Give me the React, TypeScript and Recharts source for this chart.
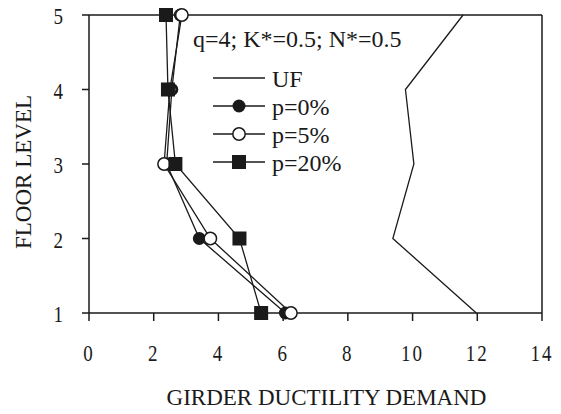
import React from 'react';
import { ScatterChart, Scatter, XAxis, YAxis, ReferenceLine } from 'recharts';

// floor levels and girder ductility demand per series
const floors = [1, 2, 3, 4, 5];
const ufDemand = [11.97, 9.39, 10.04, 9.78, 11.56];
const p0Demand = [6.07, 3.41, 2.4, 2.56, 2.82];
const p5Demand = [6.24, 3.75, 2.32, 2.5, 2.87];
const p20Demand = [5.32, 4.65, 2.67, 2.44, 2.38];

const xTicks = [0, 2, 4, 6, 8, 10, 12, 14];
const yTicks = [1, 2, 3, 4, 5];

const FONT = "'Liberation Serif', 'Times New Roman', serif";
const INK = '#1a1a1a';

const toPoints = (vals: number[]) => vals.map((v, i) => ({ x: v, y: floors[i] }));

const noMarker = () => <g />;
const filledCircle = (p: any) => <circle cx={p.cx} cy={p.cy} r={6.5} fill={INK} />;
const openCircle = (p: any) => (
  <circle cx={p.cx} cy={p.cy} r={6.2} fill="#fff" stroke={INK} strokeWidth={1.5} />
);
const filledSquare = (p: any) => (
  <rect x={p.cx - 7} y={p.cy - 7} width={14} height={14} fill={INK} />
);

const XTick = ({ x, y, payload }: any) => (
  <g transform={`translate(${x},${y + 38})`}>
    <text
      transform="scale(1,1.25)"
      textAnchor="middle"
      fontSize={19}
      letterSpacing={2}
      fontFamily={FONT}
      fill={INK}
    >
      {payload.value}
    </text>
  </g>
);

const YTick = ({ x, y, payload }: any) => (
  <g transform={`translate(${x},${y + 1})`}>
    <text
      transform="scale(1,1.25)"
      textAnchor="end"
      dy="0.35em"
      fontSize={19}
      fontFamily={FONT}
      fill={INK}
    >
      {payload.value}
    </text>
  </g>
);

const legendRows = [
  { name: 'UF', marker: 'none' },
  { name: 'p=0%', marker: 'filled' },
  { name: 'p=5%', marker: 'open' },
  { name: 'p=20%', marker: 'square' },
];

const LegendSymbol = ({ kind, cy }: { kind: string; cy: number }) => {
  const cx = 239;
  return (
    <g>
      <line x1={213} x2={265} y1={cy} y2={cy} stroke={INK} strokeWidth={1.3} />
      {kind === 'filled' && <circle cx={cx} cy={cy} r={6.5} fill={INK} />}
      {kind === 'open' && <circle cx={cx} cy={cy} r={6.2} fill="#fff" stroke={INK} strokeWidth={1.5} />}
      {kind === 'square' && <rect x={cx - 7} y={cy - 7} width={14} height={14} fill={INK} />}
    </g>
  );
};

export default function App() {
  return (
    <div style={{ position: 'absolute', left: 0, top: 0, width: 561, height: 414, background: '#fff' }}>
      <ScatterChart width={561} height={414} margin={{ top: 15, right: 19, bottom: 0, left: 0 }}>
        <XAxis
          type="number"
          dataKey="x"
          domain={[0, 14]}
          ticks={xTicks}
          interval={0}
          height={101}
          tickSize={8}
          axisLine={{ stroke: INK, strokeWidth: 1.5 }}
          tickLine={{ stroke: INK, strokeWidth: 1.5 }}
          tick={<XTick />}
          label={{
            value: 'GIRDER DUCTILITY DEMAND',
            position: 'insideBottom',
            offset: 9,
            dx: 11,
            style: { fontFamily: FONT, fontSize: 23, fill: INK },
          }}
        />
        <YAxis
          type="number"
          dataKey="y"
          domain={[1, 5]}
          ticks={yTicks}
          interval={0}
          width={89}
          tickSize={7}
          tickMargin={19}
          axisLine={{ stroke: INK, strokeWidth: 1.5 }}
          tickLine={{ stroke: INK, strokeWidth: 1.5 }}
          tick={<YTick />}
          label={{
            value: 'FLOOR LEVEL',
            angle: -90,
            position: 'insideLeft',
            offset: 23,
            dy: 8,
            style: { fontFamily: FONT, fontSize: 23, fill: INK, textAnchor: 'middle' },
          }}
        />
        <ReferenceLine y={5} stroke={INK} strokeWidth={1.5} ifOverflow="visible" />
        <ReferenceLine x={14} stroke={INK} strokeWidth={1.5} ifOverflow="visible" />
        <Scatter
          name="UF"
          data={toPoints(ufDemand)}
          line={{ stroke: INK, strokeWidth: 1.3 }}
          shape={noMarker}
          isAnimationActive={false}
        />
        <Scatter
          name="p=0%"
          data={toPoints(p0Demand)}
          line={{ stroke: INK, strokeWidth: 1.3 }}
          shape={filledCircle}
          isAnimationActive={false}
        />
        <Scatter
          name="p=5%"
          data={toPoints(p5Demand)}
          line={{ stroke: INK, strokeWidth: 1.3 }}
          shape={openCircle}
          isAnimationActive={false}
        />
        <Scatter
          name="p=20%"
          data={toPoints(p20Demand)}
          line={{ stroke: INK, strokeWidth: 1.3 }}
          shape={filledSquare}
          isAnimationActive={false}
        />
      </ScatterChart>
      <svg
        width={561}
        height={414}
        style={{ position: 'absolute', left: 0, top: 0, pointerEvents: 'none' }}
      >
        <text x={193} y={47} fontFamily={FONT} fontSize={24} fill={INK}>
          q=4; K*=0.5; N*=0.5
        </text>
        {legendRows.map((row, i) => {
          const cy = 78 + i * 28;
          return (
            <g key={row.name}>
              <LegendSymbol kind={row.marker} cy={cy} />
              <text x={272} y={cy} dy="0.36em" fontFamily={FONT} fontSize={24} fill={INK}>
                {row.name}
              </text>
            </g>
          );
        })}
      </svg>
    </div>
  );
}
